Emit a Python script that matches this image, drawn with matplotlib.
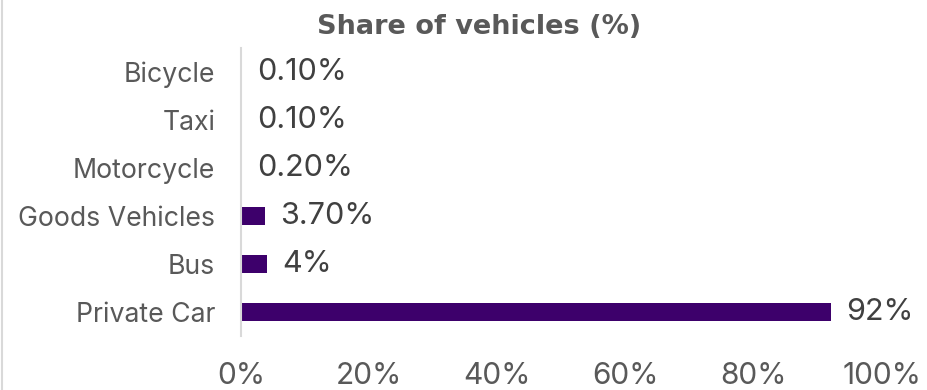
import matplotlib
matplotlib.use("Agg")
import matplotlib.pyplot as plt
from matplotlib.lines import Line2D

# Share of registered vehicles by type
categories = ["Private Car", "Bus", "Goods Vehicles", "Motorcycle", "Taxi", "Bicycle"]
shares = [92, 4, 3.7, 0.2, 0.1, 0.1]
value_labels = ["92%", "4%", "3.70%", "0.20%", "0.10%", "0.10%"]
x_ticks = [0, 20, 40, 60, 80, 100]
x_tick_labels = ["0%", "20%", "40%", "60%", "80%", "100%"]
title = "Share of vehicles (%)"

BAR_COLOR = "#3d006b"
LABEL_GRAY = "#595959"
VALUE_GRAY = "#404040"
FONT = ["Inter", "DejaVu Sans"]

plt.rcParams["font.family"] = FONT

fig = plt.figure(figsize=(9.27, 3.90), dpi=100)
ax = fig.add_axes([241 / 927, 1 - 336 / 390, (882 - 241) / 927, (336 - 48) / 390])

y = range(len(categories))
ax.barh(y, shares, height=0.36, color=BAR_COLOR, edgecolor="none")

for yi, v, lab in zip(y, shares, value_labels):
    ax.annotate(lab, xy=(v, yi), xytext=(11, 0), textcoords="offset points",
                ha="left", va="center", fontsize=22, color=VALUE_GRAY)

ax.set_xlim(0, 100)
ax.set_ylim(-0.5, len(categories) - 0.5)
ax.set_yticks(list(y))
ax.set_yticklabels(categories, fontsize=19.2, color=LABEL_GRAY)
ax.set_xticks(x_ticks)
ax.set_xticklabels(x_tick_labels, fontsize=21.5, color=LABEL_GRAY)
ax.tick_params(axis="y", length=0, pad=18.5)
ax.tick_params(axis="x", length=0, pad=19)

for side in ["top", "right", "bottom"]:
    ax.spines[side].set_visible(False)
ax.spines["left"].set_color("#d9d9d9")
ax.spines["left"].set_linewidth(1.5)

fig.text(479 / 927, 1 - 34 / 390, title, ha="center", va="baseline",
         fontsize=19.5, fontweight="bold", color=LABEL_GRAY,
         family=["DejaVu Sans"])

# thin frame edge on the left of the chart area
fig.add_artist(Line2D([1.5 / 927, 1.5 / 927], [0, 1], transform=fig.transFigure,
                      color="#d9d9d9", linewidth=1.5))

fig.savefig("out.png", dpi=100)
